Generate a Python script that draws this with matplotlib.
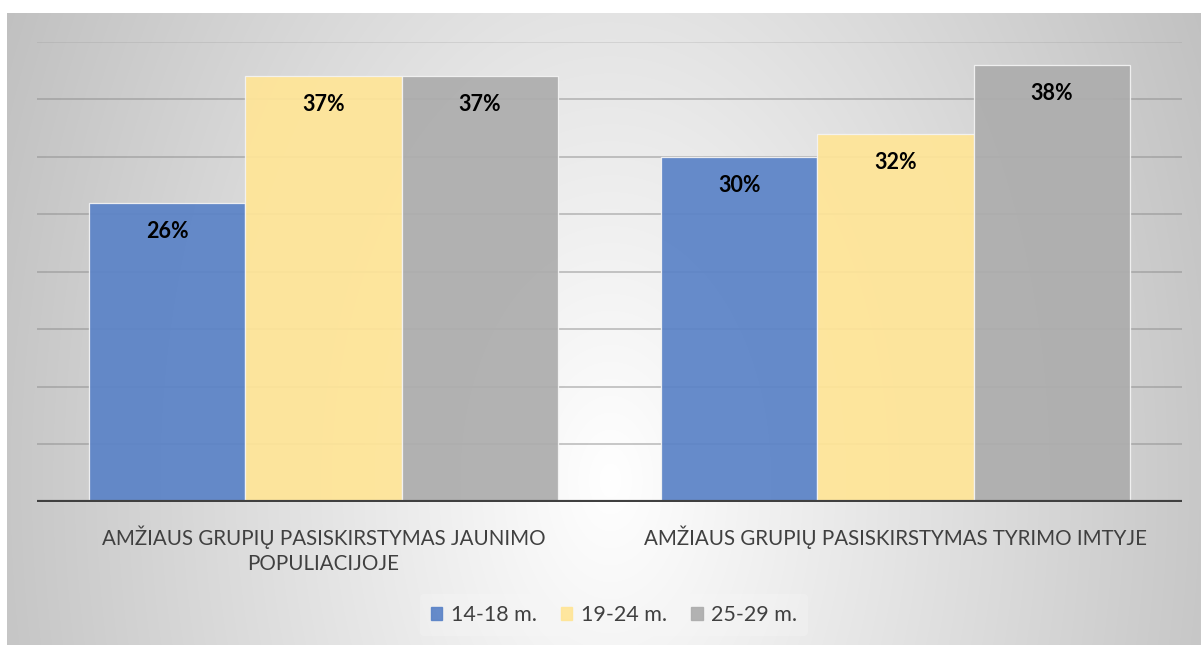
import numpy as np
import matplotlib
matplotlib.use("Agg")
import matplotlib.pyplot as plt
from matplotlib.patches import Patch

plt.rcParams['font.family'] = ['Lato', 'DejaVu Sans']

categories = ["AMŽIAUS GRUPIŲ PASISKIRSTYMAS JAUNIMO\nPOPULIACIJOJE",
              "AMŽIAUS GRUPIŲ PASISKIRSTYMAS TYRIMO IMTYJE"]
series_names = ["14-18 m.", "19-24 m.", "25-29 m."]
values_14_18 = [26, 30]
values_19_24 = [37, 32]
values_25_29 = [37, 38]
series_values = [values_14_18, values_19_24, values_25_29]
colors = ["#5b83c7", "#ffe597", "#adadad"]
grid_levels = [5, 10, 15, 20, 25, 30, 35, 40]

W, H = 1201, 645
fig = plt.figure(figsize=(W / 100, H / 100), dpi=100)
fig.patch.set_facecolor("white")

# background radial gradient
bg = fig.add_axes([0, 0, 1, 1], zorder=-10)
yy, xx = np.mgrid[0:H, 0:W]
r = np.sqrt(((xx - 610) / 600.0) ** 2 + ((yy - 480) / 950.0) ** 2)
val = np.clip(255 - 56 * r, 185, 255) / 255.0
img = np.dstack([val, val, val])
img[:13, :, :] = 1.0
img[:, :7, :] = 1.0
bg.imshow(img, extent=[0, W, H, 0], aspect="auto", interpolation="bilinear")
bg.set_xlim(0, W)
bg.set_ylim(H, 0)
bg.axis("off")

ax = fig.add_axes([37.3 / W, 143.3 / H, 1144.4 / W, 460.0 / H])
ax.set_facecolor("none")
ax.set_xlim(-0.5, 1.5)
ax.set_ylim(0, 40)

for g in grid_levels:
    ax.axhline(g, color="#8a8a8a", lw=1.3, alpha=0.5 if g < 40 else 0.22, zorder=1)

x = np.arange(len(categories))
bw = 0.273
for i, (vals, c) in enumerate(zip(series_values, colors)):
    pos = x + (i - 1) * bw
    bars = ax.bar(pos, vals, width=bw, color=c, edgecolor="#f4f4f4", linewidth=0.9,
                  alpha=0.93, zorder=2)
    for b, v in zip(bars, vals):
        ax.annotate(f"{v}%", (b.get_x() + b.get_width() / 2, v), xytext=(0, -20.5),
                    textcoords="offset points", ha="center", va="center",
                    fontsize=15.5, fontweight="bold", color="black", zorder=3)

ax.axhline(0, color="#404040", lw=3.0, zorder=4)

for s in ax.spines.values():
    s.set_visible(False)
ax.set_yticks([])
ax.set_xticks(x)
ax.set_xticklabels(categories, fontsize=14.8, color="#404040", linespacing=1.35)
ax.tick_params(axis="x", length=0, pad=17)

handles = [Patch(facecolor=c, edgecolor=c, alpha=0.93) for c in colors]
leg = fig.legend(handles, series_names, loc="center", bbox_to_anchor=(614 / W, 30 / H),
                 ncol=3, frameon=True, fontsize=15.5, handlelength=0.55, handleheight=0.55,
                 handletextpad=0.4, columnspacing=1.1, borderpad=0.5)
leg.get_frame().set_facecolor("#f8f8f8")
leg.get_frame().set_edgecolor("none")
leg.get_frame().set_alpha(0.3)
for t in leg.get_texts():
    t.set_color("#404040")

fig.savefig("out.png", dpi=100)
